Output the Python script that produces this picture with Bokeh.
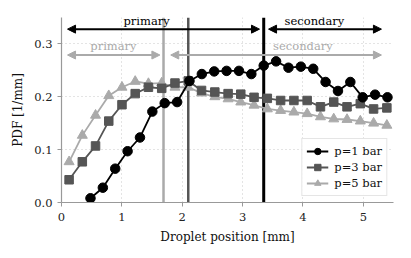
from bokeh.plotting import figure
from bokeh.models import (Span, Arrow, NormalHead, Legend, LegendItem, Label,
                          FixedTicker, NumeralTickFormatter, Range1d)
from bokeh.embed import file_html
from bokeh.resources import INLINE

# ---------------- data ----------------
x_p1 = [0.48, 0.685, 0.89, 1.095, 1.30, 1.505, 1.71, 1.915, 2.12, 2.325, 2.53, 2.735,
        2.94, 3.145, 3.35, 3.555, 3.76, 3.965, 4.17, 4.375, 4.58, 4.785, 4.99, 5.195, 5.40]
pdf_p1 = [0.008, 0.028, 0.064, 0.097, 0.123, 0.172, 0.188, 0.190, 0.230, 0.243, 0.248, 0.249,
          0.249, 0.243, 0.259, 0.267, 0.255, 0.257, 0.253, 0.228, 0.211, 0.228, 0.199, 0.204, 0.199]

x_p35 = [0.126, 0.345, 0.564, 0.783, 1.002, 1.221, 1.44, 1.66, 1.88, 2.10, 2.32, 2.54, 2.76,
         2.97, 3.19, 3.41, 3.63, 3.85, 4.07, 4.29, 4.51, 4.73, 4.95, 5.17, 5.39]
pdf_p3 = [0.043, 0.077, 0.107, 0.154, 0.185, 0.206, 0.218, 0.216, 0.226, 0.230, 0.212, 0.209,
          0.206, 0.205, 0.199, 0.197, 0.193, 0.193, 0.193, 0.181, 0.190, 0.181, 0.187, 0.177, 0.179]
pdf_p5 = [0.077, 0.127, 0.165, 0.202, 0.218, 0.229, 0.225, 0.226, 0.218, 0.218, 0.207, 0.200,
          0.196, 0.190, 0.184, 0.177, 0.174, 0.171, 0.168, 0.162, 0.158, 0.157, 0.154, 0.150, 0.146]

labels = ["p=1 bar", "p=3 bar", "p=5 bar"]
colors = ["#000000", "#555555", "#aaaaaa"]

# boundaries between primary / secondary regions
boundary_p1 = 3.35
boundary_p3 = 2.10
boundary_p5 = 1.69

# region arrows and their texts
arrows_black = [(0.10, 3.28), (3.43, 5.30)]
arrow_black_y = 0.328
arrows_gray = [(0.10, 1.63), (1.81, 5.30)]
arrow_gray_y = 0.279
texts = [(1.41, 0.344, "primary", "#000000"), (4.19, 0.344, "secondary", "#000000"),
         (0.86, 0.297, "primary", "#aaaaaa"), (4.0, 0.297, "secondary", "#aaaaaa")]

x_ticks = [0, 1, 2, 3, 4, 5]
y_ticks = [0.0, 0.1, 0.2, 0.3]

FONT = "DejaVu Serif"

p = figure(width=408, height=250, output_backend="svg", toolbar_location=None,
           x_range=Range1d(0, 5.5), y_range=Range1d(0, 0.35),
           min_border_left=61, min_border_right=15, min_border_top=17, min_border_bottom=48)
p.outline_line_color = None
p.background_fill_color = "white"

# grid
for g in (p.xgrid, p.ygrid):
    g.grid_line_color = "#c8c8c8"
    g.grid_line_dash = "1 3"
    g.grid_line_width = 1

# axes
for ax in (p.xaxis, p.yaxis):
    ax.axis_line_color = "#999999"
    ax.axis_line_width = 1.2
    ax.major_tick_line_color = "#999999"
    ax.major_tick_out = 4
    ax.major_tick_in = 0
    ax.minor_tick_line_color = None
    ax.major_label_text_font = FONT
    ax.major_label_text_font_size = "11.5px"
    ax.major_label_text_color = "#222222"
    ax.axis_label_text_font = FONT
    ax.axis_label_text_font_size = "12px"
    ax.axis_label_text_font_style = "normal"
    ax.axis_label_text_color = "#111111"
p.xaxis.ticker = FixedTicker(ticks=x_ticks)
p.yaxis.ticker = FixedTicker(ticks=y_ticks)
p.yaxis.formatter = NumeralTickFormatter(format="0.0")
p.xaxis.axis_label = "Droplet position [mm]"
p.yaxis.axis_label = "PDF [1/mm]"
p.xaxis.major_label_standoff = 6
p.yaxis.major_label_standoff = 5
p.xaxis.axis_label_standoff = 6
p.yaxis.axis_label_standoff = 6

# boundaries
for loc, col, w in [(boundary_p5, colors[2], 2.5), (boundary_p3, colors[1], 2.5), (boundary_p1, colors[0], 3)]:
    p.add_layout(Span(location=loc, dimension="height", line_color=col, line_width=w, level="underlay"))

# series
l5 = p.line(x_p35, pdf_p5, line_color=colors[2], line_width=1.8)
m5 = p.scatter(x_p35, pdf_p5, marker="triangle", size=10, fill_color=colors[2], line_color=colors[2])
l3 = p.line(x_p35, pdf_p3, line_color=colors[1], line_width=1.8)
m3 = p.scatter(x_p35, pdf_p3, marker="square", size=8.5, fill_color=colors[1], line_color=colors[1])
l1 = p.line(x_p1, pdf_p1, line_color=colors[0], line_width=1.8)
m1 = p.scatter(x_p1, pdf_p1, marker="circle", size=9.5, fill_color=colors[0], line_color=colors[0])

# arrows
for (xs, xe) in arrows_black:
    p.add_layout(Arrow(x_start=xs, y_start=arrow_black_y, x_end=xe, y_end=arrow_black_y,
                       line_color="black", line_width=2,
                       start=NormalHead(size=8, fill_color="black", line_color="black"),
                       end=NormalHead(size=8, fill_color="black", line_color="black")))
for (xs, xe) in arrows_gray:
    p.add_layout(Arrow(x_start=xs, y_start=arrow_gray_y, x_end=xe, y_end=arrow_gray_y,
                       line_color=colors[2], line_width=2,
                       start=NormalHead(size=8, fill_color=colors[2], line_color=colors[2]),
                       end=NormalHead(size=8, fill_color=colors[2], line_color=colors[2])))
for (tx, ty, tt, tc) in texts:
    p.add_layout(Label(x=tx, y=ty, text=tt, text_color=tc, text_font=FONT,
                       text_font_size="11.5px", text_align="center", text_baseline="middle"))

legend = Legend(items=[LegendItem(label=labels[0], renderers=[l1, m1]),
                       LegendItem(label=labels[1], renderers=[l3, m3]),
                       LegendItem(label=labels[2], renderers=[l5, m5])],
                location="bottom_right")
legend.label_text_font = FONT
legend.label_text_font_size = "11.5px"
legend.label_text_color = "#111111"
legend.glyph_width = 22
legend.glyph_height = 16
legend.label_height = 16
legend.spacing = 0
legend.padding = 4
legend.margin = 6
legend.label_standoff = 6
legend.border_line_color = "#cccccc"
legend.border_line_width = 1
legend.background_fill_alpha = 0.9
p.add_layout(legend)

open("out.html", "w").write(file_html(p, INLINE))
